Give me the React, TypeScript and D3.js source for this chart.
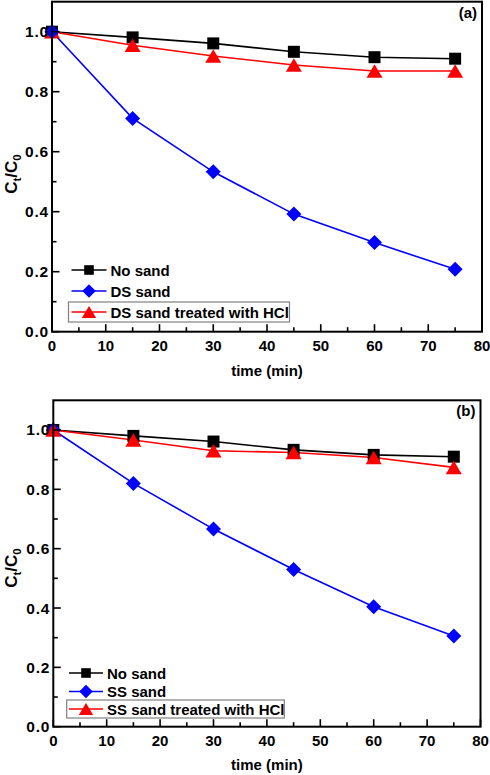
import React from "react";
import * as d3 from "d3";

const TIME = [0, 15, 30, 45, 60, 75];
const A_NO_SAND = [1.0, 0.981, 0.961, 0.933, 0.915, 0.91];
const A_DS_SAND = [1.0, 0.711, 0.533, 0.392, 0.297, 0.208];
const A_DS_HCL = [1.0, 0.955, 0.919, 0.889, 0.869, 0.869];
const B_NO_SAND = [1.0, 0.98, 0.961, 0.933, 0.916, 0.91];
const B_SS_SAND = [1.0, 0.82, 0.666, 0.53, 0.404, 0.306];
const B_SS_HCL = [1.0, 0.966, 0.93, 0.924, 0.907, 0.874];
const X_TICKS = [0, 10, 20, 30, 40, 50, 60, 70, 80];
const Y_TICKS = [0.0, 0.2, 0.4, 0.6, 0.8, 1.0];

const FONT = "'Liberation Sans', Arial, sans-serif";

type Series = { name: string; values: number[]; color: string; marker: "square" | "diamond" | "triangle" };

function Marker({ kind, x, y, color, s = 1 }: { kind: string; x: number; y: number; color: string; s?: number }) {
  if (kind === "square") {
    const h = 6 * s;
    return <rect x={x - h} y={y - h} width={2 * h} height={2 * h} fill={color} />;
  }
  if (kind === "diamond") {
    const h = 7.5 * s;
    return <path d={`M${x},${y - h}L${x + h},${y}L${x},${y + h}L${x - h},${y}Z`} fill={color} />;
  }
  const w = 8 * s, hh = 6.8 * s;
  return <path d={`M${x},${y - hh}L${x + w},${y + hh}L${x - w},${y + hh}Z`} fill={color} />;
}

function Panel({ left, right, top, bottom, series, drawOrder, label, titleY, legend, yTitleCenter }: any) {
  const x = d3.scaleLinear().domain([0, 80]).range([left, right]);
  const y = d3.scaleLinear().domain([0, 1.1]).range([bottom, top]);
  const line = d3.line<number>().x((_, i) => x(TIME[i])).y((v) => y(v));
  const minorX = d3.range(5, 80, 10);
  const minorY = [0.1, 0.3, 0.5, 0.7, 0.9];
  const ord: Series[] = drawOrder.map((i: number) => series[i]);
  return (
    <g fontFamily={FONT} fontWeight="bold">
      {ord.map((s) => (
        <path key={s.name + "l"} d={line(s.values) || ""} fill="none" stroke={s.color} strokeWidth={1.6} />
      ))}
      {ord.map((s) =>
        s.values.map((v, i) => <Marker key={s.name + i} kind={s.marker} x={x(TIME[i])} y={y(v)} color={s.color} />)
      )}
      <rect x={left} y={top} width={right - left} height={bottom - top} fill="none" stroke="#000" strokeWidth={2} />
      {X_TICKS.map((t) => (
        <g key={"xt" + t}>
          <line x1={x(t)} x2={x(t)} y1={bottom} y2={bottom - 7.5} stroke="#000" strokeWidth={1.6} />
          <text x={x(t)} y={bottom + 19} textAnchor="middle" fontSize={15}>{t}</text>
        </g>
      ))}
      {minorX.map((t) => (
        <line key={"xm" + t} x1={x(t)} x2={x(t)} y1={bottom} y2={bottom - 4.5} stroke="#000" strokeWidth={1.6} />
      ))}
      {Y_TICKS.map((t) => (
        <g key={"yt" + t}>
          <line x1={left} x2={left + 7.5} y1={y(t)} y2={y(t)} stroke="#000" strokeWidth={1.6} />
          <text x={left - 3} y={y(t) + 5.5} textAnchor="end" fontSize={15.5} letterSpacing={0.8}>{t.toFixed(1)}</text>
        </g>
      ))}
      {minorY.map((t) => (
        <line key={"ym" + t} x1={left} x2={left + 4.5} y1={y(t)} y2={y(t)} stroke="#000" strokeWidth={1.6} />
      ))}
      <text x={(left + right) / 2} y={titleY} textAnchor="middle" fontSize={15}>time (min)</text>
      <text transform={`translate(17,${yTitleCenter}) rotate(-90)`} textAnchor="middle" fontSize={17}>
        C<tspan fontSize={11.5} dy={3.5}>t</tspan><tspan dy={-3.5}>/C</tspan><tspan fontSize={11.5} dy={3.5}>0</tspan>
      </text>
      <text x={right - 5} y={top + 16} textAnchor="end" fontSize={15}>{label}</text>
      <rect x={legend.boxX} y={legend.boxY} width={legend.boxW} height={legend.boxH} fill="none" stroke="#808080" strokeWidth={1.2} />
      {series.map((s: Series, i: number) => (
        <g key={"lg" + i}>
          <line x1={legend.lx1} x2={legend.lx2} y1={legend.rows[i]} y2={legend.rows[i]} stroke={s.color} strokeWidth={1.6} />
          <Marker kind={s.marker} x={(legend.lx1 + legend.lx2) / 2} y={legend.rows[i]} color={s.color} s={s.marker === "square" ? 0.8 : 0.9} />
          <text x={legend.tx} y={legend.rows[i] + 5.5} fontSize={15}>{s.name}</text>
        </g>
      ))}
    </g>
  );
}

export default function App() {
  const seriesA: Series[] = [
    { name: "No sand", values: A_NO_SAND, color: "#000000", marker: "square" },
    { name: "DS sand", values: A_DS_SAND, color: "#0000ff", marker: "diamond" },
    { name: "DS sand treated with HCl", values: A_DS_HCL, color: "#ff0000", marker: "triangle" },
  ];
  const seriesB: Series[] = [
    { name: "No sand", values: B_NO_SAND, color: "#000000", marker: "square" },
    { name: "SS sand", values: B_SS_SAND, color: "#0000ff", marker: "diamond" },
    { name: "SS sand treated with HCl", values: B_SS_HCL, color: "#ff0000", marker: "triangle" },
  ];
  return (
    <svg width={490} height={775} style={{ position: "absolute", left: 0, top: 0, background: "#fff" }}>
      <rect width={490} height={775} fill="#fff" />
      <Panel
        left={52} right={482} top={1.7} bottom={331.7}
        series={seriesA} drawOrder={[0, 2, 1]} label="(a)" titleY={376} yTitleCenter={174}
        legend={{ boxX: 68.5, boxY: 302, boxW: 221, boxH: 20, lx1: 71.5, lx2: 106.5, tx: 110.5, rows: [270, 291, 312] }}
      />
      <Panel
        left={53.3} right={480.5} top={400.3} bottom={726.7}
        series={seriesB} drawOrder={[0, 1, 2]} label="(b)" titleY={770} yTitleCenter={568}
        legend={{ boxX: 66.7, boxY: 700, boxW: 217.6, boxH: 18, lx1: 69, lx2: 103, tx: 107, rows: [673, 691.5, 709] }}
      />
    </svg>
  );
}
